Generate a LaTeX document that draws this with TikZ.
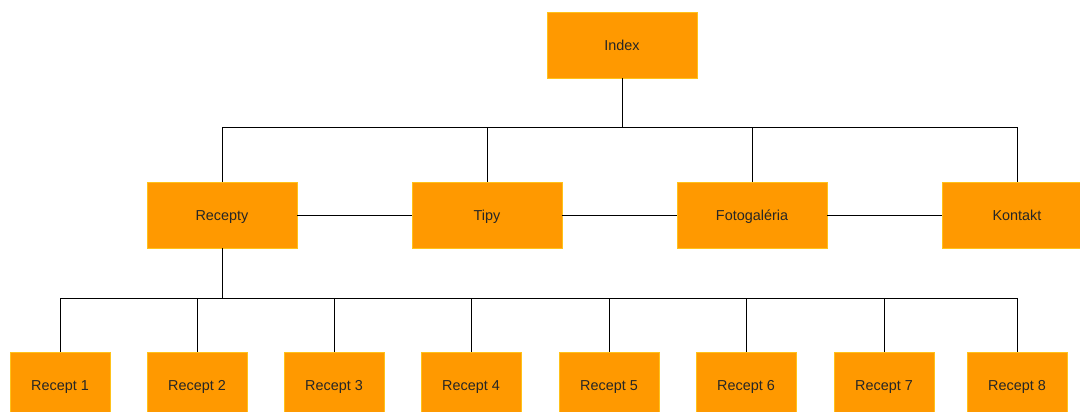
\documentclass[tikz,border=0pt]{standalone}
\usepackage{fontspec}
\setmainfont{Liberation Sans}
\usetikzlibrary{shadows}

\definecolor{boxfill}{HTML}{FF9900}
\definecolor{boxline}{HTML}{FFC21A}
\definecolor{boxshade}{HTML}{C77A00}

\begin{document}
\begin{tikzpicture}[x=1pt,y=-1pt,line width=1pt,
    page box/.style={rectangle,draw=boxline,fill=boxfill,line width=0.8pt,
      minimum width=150pt,minimum height=66pt,font=\fontsize{14.4}{16}\selectfont,
      text height=10.6pt,text depth=0pt,
      text=black!85,drop shadow={shadow xshift=1.2pt,shadow yshift=-1.2pt,fill=boxshade,opacity=1}},
    sub box/.style={page box,minimum width=100pt}]

  \useasboundingbox (0,0) rectangle (1080,412);

  \node[page box]  (index)   at (622,45)  {Index};

  \node[page box]  (recepty) at (222,215) {Recepty};
  \node[page box]  (tipy)    at (487,215) {Tipy};
  \node[page box]  (foto)    at (752,215) {Fotogaléria};
  \node[page box]  (kontakt) at (1017,215) {Kontakt};

  \node[sub box]   (r1) at (60,385)  {Recept 1};
  \node[sub box]   (r2) at (197,385) {Recept 2};
  \node[sub box]   (r3) at (334,385) {Recept 3};
  \node[sub box]   (r4) at (471,385) {Recept 4};
  \node[sub box]   (r5) at (609,385) {Recept 5};
  \node[sub box]   (r6) at (746,385) {Recept 6};
  \node[sub box]   (r7) at (884,385) {Recept 7};
  \node[sub box]   (r8) at (1017,385) {Recept 8};

  % bus lines
  \coordinate (bus1) at (622,127);
  \coordinate (bus2) at (222,298);

  \draw (index.south) -- (bus1);
  \draw (bus1) -| (recepty.north);
  \draw (bus1) -| (tipy.north);
  \draw (bus1) -| (foto.north);
  \draw (bus1) -| (kontakt.north);

  \draw (recepty.east) -- (tipy.west);
  \draw (tipy.east) -- (foto.west);
  \draw (foto.east) -- (kontakt.west);

  \draw (recepty.south) -- (bus2);
  \draw (bus2) -| (r1.north);
  \draw (bus2) -| (r2.north);
  \draw (bus2) -| (r3.north);
  \draw (bus2) -| (r4.north);
  \draw (bus2) -| (r5.north);
  \draw (bus2) -| (r6.north);
  \draw (bus2) -| (r7.north);
  \draw (bus2) -| (r8.north);
\end{tikzpicture}
\end{document}
